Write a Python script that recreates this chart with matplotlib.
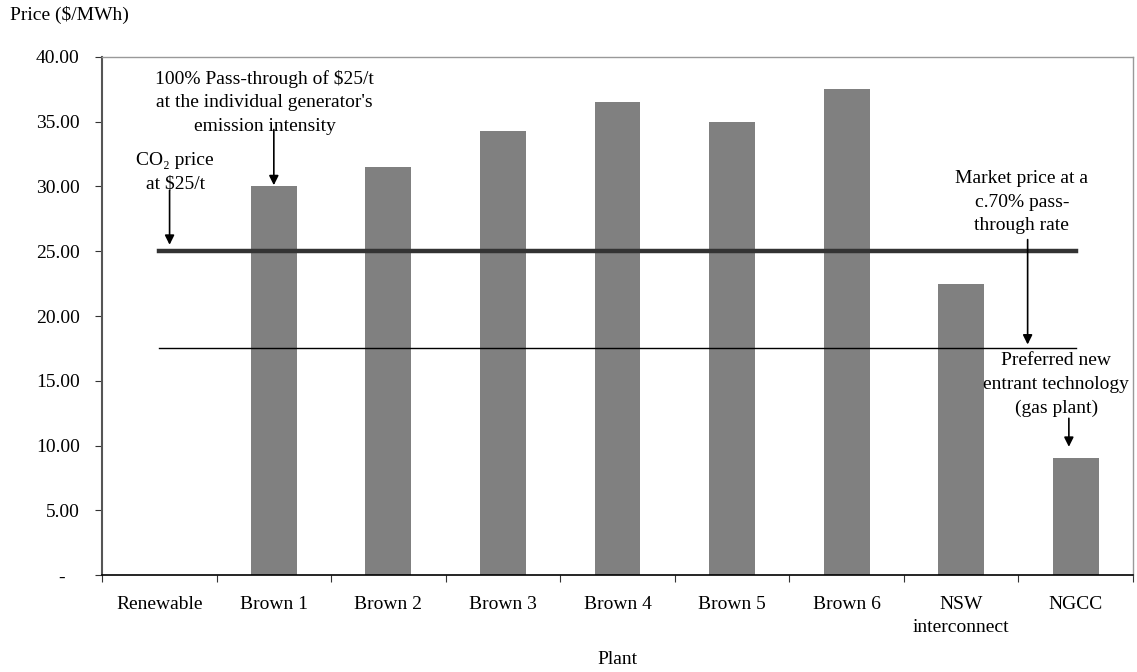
import matplotlib
matplotlib.use("Agg")
import matplotlib.pyplot as plt
import numpy as np

plt.rcParams['font.family'] = ['Liberation Serif', 'DejaVu Serif']

# plant categories and prices ($/MWh)
plants = ['Renewable', 'Brown 1', 'Brown 2', 'Brown 3', 'Brown 4', 'Brown 5',
          'Brown 6', 'NSW\ninterconnect', 'NGCC']
prices = [0.0, 30.0, 31.5, 34.25, 36.5, 35.0, 37.5, 22.5, 9.0]
co2_price = 25.0
market_price = 17.5
yticks = [0, 5, 10, 15, 20, 25, 30, 35, 40]

fig = plt.figure(figsize=(11.37, 6.72), dpi=100)
ax = fig.add_axes([0.0897, 0.1443, 0.9068, 0.7709])

x = np.arange(len(plants))
ax.bar(x, prices, width=0.4, color='#808080', zorder=2)
ax.plot(x, [co2_price] * len(x), color='#333333', lw=3.2, zorder=3)
ax.plot(x, [market_price] * len(x), color='black', lw=1.0, zorder=3)

ax.set_xlim(-0.5, len(plants) - 0.5)
ax.set_ylim(0, 40)
ax.set_yticks(yticks)
ax.set_yticklabels(['-   '] + ['%.2f' % v for v in yticks[1:]])
ax.set_xticks(np.arange(len(plants) + 1) - 0.5)
ax.set_xticklabels([])
ax.set_xticks(x, minor=True)
ax.set_xticklabels(plants, minor=True, fontsize=14, va='top', linespacing=1.45)
ax.tick_params(axis='x', which='minor', length=0, pad=15)
ax.tick_params(axis='x', which='major', direction='out', length=5, color='#333333')
ax.tick_params(axis='y', direction='out', length=5, pad=11, labelsize=14,
               color='#333333')

for side in ['top', 'right']:
    ax.spines[side].set_color('#999999')
    ax.spines[side].set_linewidth(1.0)
ax.spines['left'].set_color('#555555')
ax.spines['left'].set_linewidth(1.5)
ax.spines['bottom'].set_color('black')
ax.spines['bottom'].set_linewidth(1.2)

arrow = dict(arrowstyle='-|>', color='black', lw=1.2, mutation_scale=14,
             shrinkA=0, shrinkB=0)
ax.annotate('', xy=(0.09, 25.5), xytext=(0.09, 29.7), arrowprops=arrow, zorder=4)
ax.text(0.14, 31.1, 'CO\u2082 price\nat $25/t', ha='center', va='center',
        fontsize=14, linespacing=1.5)

ax.annotate('', xy=(1.0, 30.1), xytext=(1.0, 34.4), arrowprops=arrow, zorder=4)
ax.text(0.92, 36.5, "100% Pass-through of $25/t\nat the individual generator's\nemission intensity",
        ha='center', va='center', fontsize=14, linespacing=1.5)

ax.annotate('', xy=(7.58, 17.8), xytext=(7.58, 25.9), arrowprops=arrow, zorder=4)
ax.text(7.53, 28.8, 'Market price at a\nc.70% pass-\nthrough rate',
        ha='center', va='center', fontsize=14, linespacing=1.5)

ax.annotate('', xy=(7.94, 9.9), xytext=(7.94, 12.1), arrowprops=arrow, zorder=4)
ax.text(7.83, 14.7, 'Preferred new\nentrant technology\n(gas plant)',
        ha='center', va='center', fontsize=14, linespacing=1.5)

fig.text(0.009, 0.978, 'Price ($/MWh)', ha='left', va='center', fontsize=14)
fig.text(0.543, 0.019, 'Plant', ha='center', va='center', fontsize=14)

fig.savefig('out.png', dpi=100)
